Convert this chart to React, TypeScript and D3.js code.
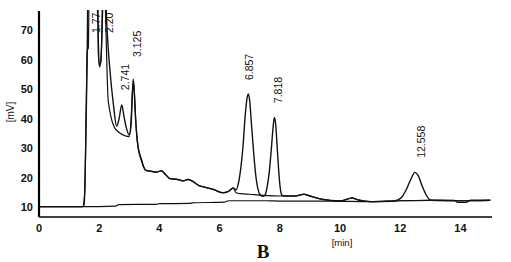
import React from "react";
import * as d3 from "d3";

// ---- data (time in min, signal in mV) ----
const traceA: [number, number][] = [
  [0, 10.3], [1.45, 10.3], [1.5, 11], [1.55, 30], [1.6, 60], [1.63, 90], [1.75, 110], [1.95, 75],
  [2.0, 58], [2.05, 59], [2.12, 80], [2.18, 110], [2.24, 75], [2.28, 67], [2.36, 56], [2.47, 45],
  [2.58, 37.5], [2.66, 40], [2.75, 44.7], [2.82, 41], [2.9, 37], [3.0, 34.5], [3.06, 38], [3.1, 48],
  [3.13, 53.5], [3.17, 48], [3.22, 38], [3.3, 30], [3.4, 26], [3.47, 23.8], [3.55, 22.6], [3.7, 22.3],
  [3.9, 22], [4.07, 22.4], [4.2, 21.2], [4.35, 19.8], [4.6, 19.5], [4.8, 19.0], [4.95, 19.5], [5.1, 18.9],
  [5.3, 17.5], [5.5, 16.9], [5.8, 16.1], [6.1, 15], [6.3, 15.5], [6.45, 16.6], [6.55, 16], [6.62, 18],
  [6.7, 23], [6.78, 31], [6.85, 41], [6.92, 47.5], [6.96, 48.4], [7.0, 46], [7.06, 38], [7.12, 30],
  [7.2, 21], [7.28, 16], [7.36, 14.2], [7.45, 13.8], [7.52, 14.4], [7.58, 17], [7.65, 22], [7.72, 30],
  [7.78, 37.5], [7.82, 40.5], [7.86, 38.5], [7.91, 31], [7.96, 23], [8.01, 17], [8.07, 14.2], [8.15, 13.9],
  [8.5, 13.9], [8.8, 14.5], [9.0, 13.9], [9.4, 12.8], [10.0, 12.2], [10.4, 13.2], [10.6, 12.6], [11.0, 12],
  [11.7, 12.1], [11.9, 12.5], [12.05, 13.5], [12.2, 16], [12.35, 19.5], [12.49, 21.9], [12.6, 20.8],
  [12.72, 17.5], [12.85, 14.5], [12.98, 12.7], [13.1, 12.5], [13.8, 12.4], [13.9, 11.8], [14.2, 11.8],
  [14.35, 12.5], [15, 12.5],
];

const traceB: [number, number][] = [
  [0, 10.3], [1.45, 10.3], [1.52, 15], [1.57, 45], [1.6, 63], [1.64, 64], [1.67, 90], [1.8, 110],
  [1.95, 90], [1.97, 62], [2.02, 57.5], [2.07, 62], [2.1, 75], [2.14, 105], [2.2, 80], [2.25, 60],
  [2.3, 46], [2.56, 36.3], [3.0, 34], [3.06, 40], [3.11, 50], [3.15, 52], [3.2, 42], [3.28, 31],
  [3.4, 26.5], [3.5, 23.3], [3.55, 22.6], [3.7, 22.3], [3.9, 22], [4.07, 22.4], [4.2, 21.2],
  [4.35, 19.8], [4.6, 19.5], [4.8, 19.0], [4.95, 19.5], [5.1, 18.9], [5.3, 17.5], [5.5, 16.9],
  [5.8, 16.1], [6.1, 15], [6.3, 15.5], [6.45, 16.6], [6.55, 15], [6.7, 14.7], [7.0, 14.5], [7.3, 14.2],
  [7.6, 14], [8.0, 13.9], [8.5, 13.9], [8.8, 14.5], [9.0, 13.9], [9.4, 12.8], [10.0, 12.2], [10.4, 13.2],
  [10.6, 12.6], [11.0, 12], [12.0, 12.3], [13.0, 12.4], [14.0, 12.3], [15, 12.4],
];

const traceC: [number, number][] = [
  [0, 10.3], [1.45, 10.3], [2.55, 10.5], [2.65, 11.0], [3.9, 11.1], [4.0, 11.3], [5.0, 11.4],
  [5.1, 11.6], [6.15, 11.8], [6.3, 12.3], [7.5, 12.3], [8.0, 12.2], [9.0, 12.2], [10.0, 12.1],
  [11.0, 12.0], [12.0, 12.3], [13.0, 12.4], [14.0, 12.3], [15, 12.4],
];

const peakTimes = [1.77, 2.2, 2.741, 3.125, 6.857, 7.818, 12.558];
const peakLabels = ["1.77", "2.20", "2.741", "3.125", "6.857", "7.818", "12.558"];
const peakLabelAt = [69, 69, 49.7, 60.9, 53.1, 45.3, 26.8];

const xTicks = [0, 2, 4, 6, 8, 10, 12, 14];
const yTicks = [10, 20, 30, 40, 50, 60, 70];

export default function App() {
  const W = 511, H = 262;
  const x = d3.scaleLinear().domain([0, 15]).range([39, 490.5]);
  const y = d3.scaleLinear().domain([6.8, 76.8]).range([217, 10]);
  const line = d3.line<[number, number]>()
    .x((d) => x(d[0]))
    .y((d) => y(d[1]))
    .curve(d3.curveMonotoneX);
  const font = "'Liberation Sans', Arial, sans-serif";
  return (
    <svg width={W} height={H} style={{ position: "absolute", left: 0, top: 0, background: "#fff" }}>
      <defs>
        <clipPath id="plot">
          <rect x={x(0)} y={10} width={x(15) - x(0)} height={207} />
        </clipPath>
      </defs>
      <g clipPath="url(#plot)" fill="none" stroke="#111" strokeLinejoin="round">
        <path d={line(traceC) || ""} strokeWidth={1.2} />
        <path d={line(traceB) || ""} strokeWidth={1.2} />
        <path d={line(traceA) || ""} strokeWidth={1.4} />
      </g>
      {/* axes */}
      <line x1={x(0)} x2={x(0)} y1={11} y2={217} stroke="#000" strokeWidth={2.2} />
      <line x1={x(0)} x2={492} y1={217} y2={217} stroke="#000" strokeWidth={1.6} />
      {yTicks.map((t) => (
        <text key={t} x={33} y={y(t)} dy="0.36em" textAnchor="end" fontFamily={font}
          fontWeight="bold" fontSize={11} fill="#111">{t}</text>
      ))}
      {xTicks.map((t) => (
        <text key={t} x={x(t)} y={232} textAnchor="middle" fontFamily={font}
          fontWeight="bold" fontSize={11} fill="#111">{t}</text>
      ))}
      <text transform="translate(14,112) rotate(-90)" textAnchor="middle" fontFamily={font}
        fontSize={10} fill="#111">[mV]</text>
      <text x={342} y={246} textAnchor="middle" fontFamily={font} fontSize={9.5} fill="#111">[min]</text>
      <text x={263} y={258} textAnchor="middle" fontFamily="'Liberation Serif', 'DejaVu Serif', serif"
        fontWeight="bold" fontSize={19} fill="#111">B</text>
      {peakTimes.map((t, i) => (
        <text key={t} transform={`translate(${x(t) + 4},${y(peakLabelAt[i])}) rotate(-90)`}
          dy="0.35em" textAnchor="start" fontFamily={font} fontSize={10.5} fill="#111">
          {peakLabels[i]}
        </text>
      ))}
    </svg>
  );
}
